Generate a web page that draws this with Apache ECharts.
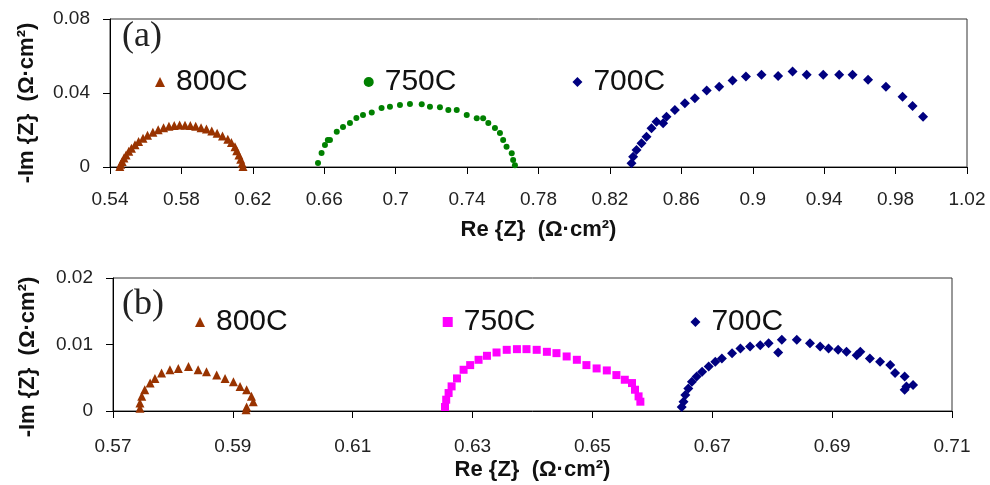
<!DOCTYPE html>
<html>
<head>
<meta charset="utf-8">
<script src="https://cdn.jsdelivr.net/npm/echarts@6/dist/echarts.min.js"></script>
<style>
	html, body { margin: 0; background: #fff; }
	#chart { width: 990px; height: 485px; }
</style>
</head>
<body>
<div id="chart"></div>
<script>
	// panel (a) - Re{Z}, -Im{Z} in ohm.cm2
	var a800 = [[0.5455, 0.0003], [0.546, 0.0015], [0.5468, 0.003], [0.5478, 0.0048], [0.549, 0.0065], [0.5505, 0.0085], [0.552, 0.0102], [0.554, 0.012], [0.556, 0.0138], [0.5585, 0.0155], [0.561, 0.0172], [0.564, 0.0188], [0.567, 0.0201], [0.570, 0.0212], [0.573, 0.022], [0.576, 0.0225], [0.579, 0.0227], [0.582, 0.0226], [0.585, 0.0224], [0.588, 0.022], [0.591, 0.0212], [0.594, 0.0205], [0.597, 0.0195], [0.600, 0.0182], [0.603, 0.0168], [0.606, 0.015], [0.608, 0.0133], [0.610, 0.011], [0.611, 0.0088], [0.6122, 0.0065], [0.6132, 0.0042], [0.614, 0.002], [0.6145, 0.0003]]
	var a750 = [[0.6565, 0.0022], [0.6585, 0.0076], [0.6604, 0.0119], [0.662, 0.0146], [0.6632, 0.0146], [0.667, 0.0191], [0.6705, 0.0216], [0.6744, 0.0238], [0.678, 0.0265], [0.6817, 0.0281], [0.6866, 0.0294], [0.6921, 0.0319], [0.6968, 0.0326], [0.7024, 0.0335], [0.708, 0.0341], [0.7146, 0.0339], [0.7192, 0.0326], [0.7248, 0.0323], [0.7295, 0.0308], [0.7342, 0.0308], [0.7398, 0.0281], [0.7454, 0.0263], [0.749, 0.0263], [0.7519, 0.0238], [0.7556, 0.0211], [0.7584, 0.0184], [0.7602, 0.0146], [0.7621, 0.011], [0.765, 0.0074], [0.7658, 0.0038], [0.7668, 0.001]]
	var a700 = [[0.8321, 0.002], [0.833, 0.0056], [0.8349, 0.0092], [0.8377, 0.0128], [0.8405, 0.0164], [0.8433, 0.0209], [0.8461, 0.0245], [0.8498, 0.0236], [0.8517, 0.0272], [0.8564, 0.0308], [0.862, 0.0345], [0.8676, 0.0372], [0.8742, 0.0413], [0.8812, 0.0434], [0.8887, 0.0467], [0.8962, 0.0489], [0.9049, 0.0498], [0.9142, 0.0492], [0.9223, 0.0516], [0.9302, 0.0498], [0.9395, 0.0498], [0.9484, 0.0498], [0.9559, 0.0498], [0.9646, 0.0471], [0.9746, 0.0434], [0.9839, 0.038], [0.9895, 0.033], [0.9954, 0.0272]]

	// panel (b)
	var b800 = [[0.5745, 0.0004], [0.5745, 0.0012], [0.5748, 0.0022], [0.5753, 0.0032], [0.5762, 0.0042], [0.577, 0.0049], [0.5781, 0.0057], [0.5795, 0.0062], [0.5809, 0.0064], [0.5826, 0.0067], [0.5842, 0.0062], [0.5856, 0.0059], [0.5873, 0.0054], [0.5887, 0.0049], [0.5901, 0.0044], [0.5912, 0.0037], [0.5923, 0.0032], [0.5931, 0.0022], [0.5934, 0.0014], [0.5923, 0.0006], [0.5922, 0.0002]]
	var b750 = [[0.6254, 0.0006], [0.6256, 0.0017], [0.626, 0.0027], [0.6265, 0.0037], [0.6274, 0.0049], [0.6285, 0.0062], [0.6296, 0.0069], [0.631, 0.0077], [0.6324, 0.0083], [0.634, 0.0088], [0.6357, 0.0092], [0.6374, 0.0093], [0.639, 0.0093], [0.6407, 0.0092], [0.6424, 0.0089], [0.644, 0.0087], [0.6457, 0.0082], [0.6474, 0.0077], [0.649, 0.0069], [0.6507, 0.0064], [0.6524, 0.0061], [0.654, 0.0054], [0.6554, 0.0047], [0.6566, 0.0042], [0.6571, 0.0032], [0.6577, 0.0022], [0.658, 0.0014]]
	var b700 = [[0.6649, 0.0006], [0.6652, 0.0014], [0.6655, 0.0024], [0.666, 0.0034], [0.6666, 0.0044], [0.6674, 0.0052], [0.6683, 0.0059], [0.6694, 0.0067], [0.6705, 0.0074], [0.6716, 0.0079], [0.6733, 0.0087], [0.6747, 0.0094], [0.6763, 0.0097], [0.678, 0.0099], [0.6794, 0.0102], [0.681, 0.0088], [0.6816, 0.0107], [0.6841, 0.0107], [0.6863, 0.0102], [0.688, 0.0097], [0.6894, 0.0094], [0.691, 0.0092], [0.6924, 0.0089], [0.6941, 0.0084], [0.6947, 0.0089], [0.6963, 0.0079], [0.698, 0.0074], [0.6997, 0.0069], [0.7005, 0.0057], [0.7021, 0.0052], [0.7024, 0.0037], [0.7035, 0.0039], [0.7021, 0.0032]]

	var xNameLabel = 'Re {Z}  (Ω·cm²)'
	var yNameLabel = '-Im {Z}  (Ω·cm²)'

	var font = '"Liberation Sans", Arial, sans-serif'

	function xAxisOf(grid, min, max, interval, gap, margin) {
		return {
			gridIndex: grid,
			type: 'value',
			min: min,
			max: max,
			interval: interval,
			name: xNameLabel,
			nameLocation: 'middle',
			nameGap: gap,
			nameTextStyle: { fontFamily: font, fontSize: 22, fontWeight: 'bold', color: '#111' },
			axisLine: { lineStyle: { color: '#000', width: 1 } },
			axisTick: { show: true, length: 7, lineStyle: { color: '#000' } },
			axisLabel: { margin: margin, fontFamily: font, fontSize: 19, color: '#222', showMaxLabel: true, showMinLabel: true },
			splitLine: { show: false }
		}
	}

	function yAxisOf(grid, max, interval, gap, shift) {
		return {
			gridIndex: grid,
			type: 'value',
			min: 0,
			max: max,
			interval: interval,
			name: yNameLabel,
			nameLocation: 'middle',
			nameGap: gap,
			// right padding pushes the rotated name down
			nameTextStyle: { fontFamily: font, fontSize: 22, fontWeight: 'bold', color: '#111', padding: [0, shift, 0, 0] },
			axisLine: { show: true, lineStyle: { color: '#000', width: 1 } },
			axisTick: { show: true, length: 7, lineStyle: { color: '#000' } },
			axisLabel: { margin: 20, fontFamily: font, fontSize: 19, color: '#222' },
			splitLine: { show: false }
		}
	}

	function scatter(name, data, idx, symbol, size, color) {
		return {
			name: name,
			type: 'scatter',
			xAxisIndex: idx,
			yAxisIndex: idx,
			data: data,
			symbol: symbol,
			symbolSize: size,
			itemStyle: { color: color, opacity: 1 },
			emphasis: { disabled: true }
		}
	}

	var legendText = { fontFamily: font, fontSize: 30, color: '#111', padding: [0, 0, 0, 6] }

	var chart = echarts.init(document.getElementById('chart'))
	chart.setOption({
		animation: false,
		backgroundColor: '#fff',
		grid: [
			{ left: 110, right: 23, top: 19, height: 148, show: true, borderColor: '#333', borderWidth: 1 },
			{ left: 113, right: 38, top: 278, height: 133, show: true, borderColor: '#333', borderWidth: 1 }
		],
		xAxis: [
			xAxisOf(0, 0.54, 1.02, 0.04, 52, 23),
			xAxisOf(1, 0.57, 0.71, 0.02, 48, 26)
		],
		yAxis: [
			yAxisOf(0, 0.08, 0.04, 72, 20),
			yAxisOf(1, 0.02, 0.01, 74, 25)
		],
		legend: [
			{
				data: ['800C (a)', '750C (a)', '700C (a)'],
				left: 150,
				top: 62,
				itemWidth: 10,
				itemHeight: 10,
				itemGap: 116,
				textStyle: legendText,
				formatter: function (n) { return n.split(' ')[0] },
				selectedMode: false
			},
			{
				data: ['800C (b)', '750C (b)', '700C (b)'],
				left: 190,
				top: 302,
				itemWidth: 10,
				itemHeight: 10,
				itemGap: 155,
				textStyle: legendText,
				formatter: function (n) { return n.split(' ')[0] },
				selectedMode: false
			}
		],
		graphic: [
			{ type: 'text', left: 122, top: 19, style: { text: '(a)', font: '36px "Liberation Serif", serif', fill: '#222' } },
			{ type: 'text', left: 122, top: 287, style: { text: '(b)', font: '36px "Liberation Serif", serif', fill: '#222' } }
		],
		series: [
			scatter('800C (a)', a800, 0, 'triangle', 9, '#993300'),
			scatter('750C (a)', a750, 0, 'circle', 6, '#008000'),
			scatter('700C (a)', a700, 0, 'diamond', 10, '#000080'),
			scatter('800C (b)', b800, 1, 'triangle', 9, '#993300'),
			scatter('750C (b)', b750, 1, 'rect', 8, '#FF00FF'),
			scatter('700C (b)', b700, 1, 'diamond', 10, '#000080')
		]
	})
</script>
</body>
</html>
